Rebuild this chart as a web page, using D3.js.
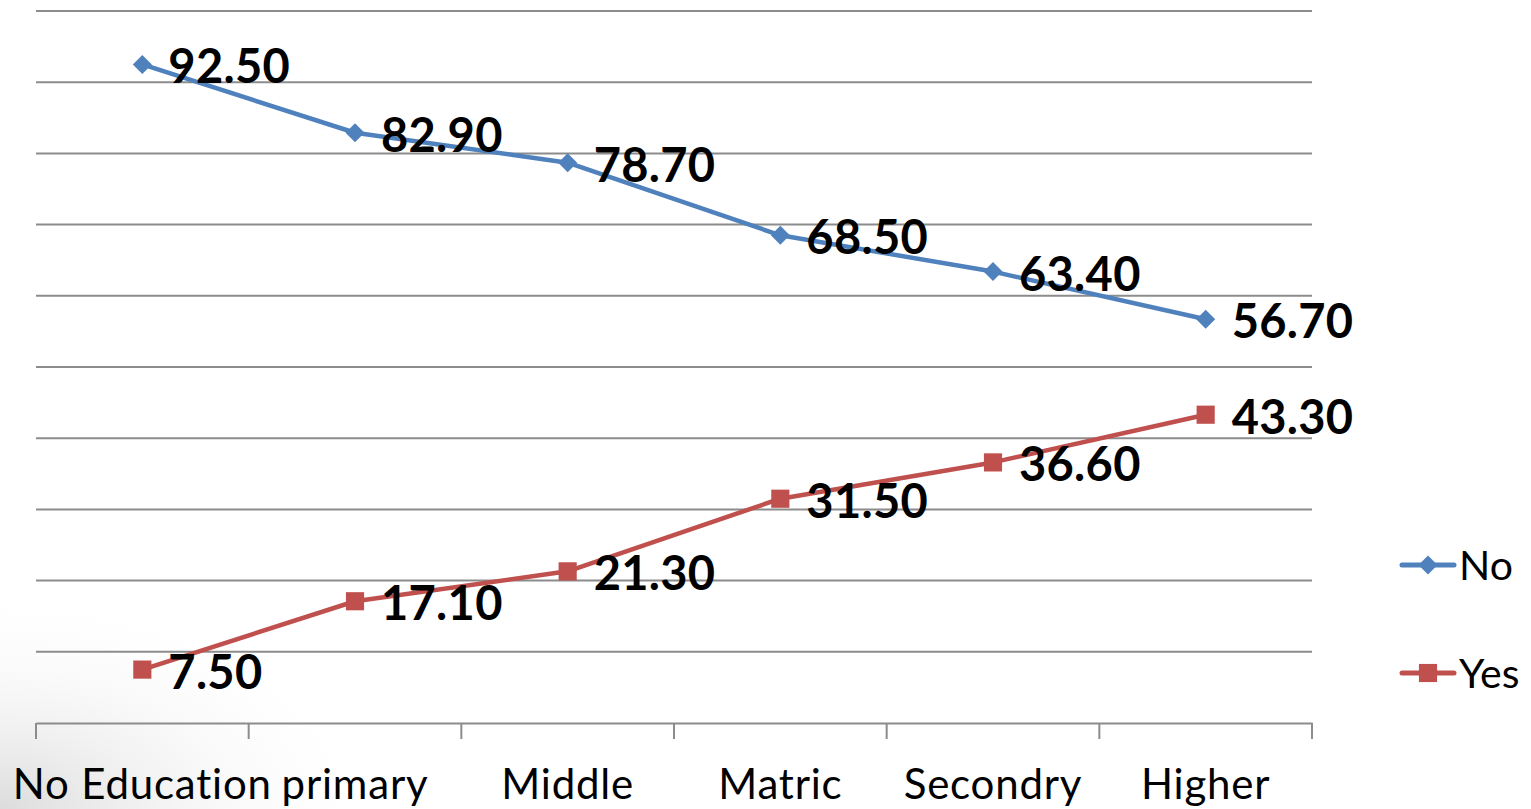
<!DOCTYPE html>
<html>
<head>
<meta charset="utf-8">
<script src="https://cdn.jsdelivr.net/npm/d3@7"></script>
<style>
  html, body { margin: 0; padding: 0; background: #fff; }
  svg { display: block; }
  text { font-variant-ligatures: none; }
</style>
</head>
<body>
<svg id="chart" width="1531" height="809"></svg>
<script>
const categories = ["No Education", "primary", "Middle", "Matric", "Secondry", "Higher"];
const noValues = [92.5, 82.9, 78.7, 68.5, 63.4, 56.7];
const yesValues = [7.5, 17.1, 21.3, 31.5, 36.6, 43.3];
const yTicks = [10, 20, 30, 40, 50, 60, 70, 80, 90, 100];
const seriesNames = ["No", "Yes"];

const svg = d3.select("#chart");
const W = 1531, H = 809;
const plotLeft = 36, plotRight = 1312, plotTop = 11, plotBottom = 723;
const blue = "#4F81BD", red = "#C0504D";
const font = "Lato, 'Open Sans', sans-serif";

// faint background shading at bottom-left
const defs = svg.append("defs");
const rg = defs.append("radialGradient").attr("id", "shade")
  .attr("cx", 0).attr("cy", 1).attr("r", 0.55);
rg.append("stop").attr("offset", "0%").attr("stop-color", "#dcdcdc");
rg.append("stop").attr("offset", "100%").attr("stop-color", "#ffffff").attr("stop-opacity", 0);
svg.append("rect").attr("width", W).attr("height", H).attr("fill", "#fff");
svg.append("rect").attr("x", 0).attr("y", 400).attr("width", 700).attr("height", 409).attr("fill", "url(#shade)");

const x = d3.scaleBand().domain(categories).range([plotLeft, plotRight]).padding(0);
const y = d3.scaleLinear().domain([0, 100]).range([plotBottom, plotTop]);

// gridlines
svg.append("g").selectAll("line").data(yTicks).join("line")
  .attr("x1", plotLeft).attr("x2", plotRight)
  .attr("y1", d => y(d)).attr("y2", d => y(d))
  .attr("stroke", "#8c8c8c").attr("stroke-width", 2);

// x axis
const xAxis = d3.axisBottom(x).tickSize(0).tickSizeOuter(0).tickFormat(d => d);
const gx = svg.append("g").attr("transform", `translate(0,${plotBottom})`).call(xAxis);
gx.select(".domain").attr("stroke", "#8c8c8c").attr("stroke-width", 2);
gx.selectAll(".tick text")
  .attr("font-family", font).attr("font-size", 42).attr("fill", "#000")
  .attr("letter-spacing", 0.8)
  .attr("dy", 0).attr("y", 76);
// boundary tick marks
const bounds = categories.map(c => x(c)).concat([x(categories[categories.length - 1]) + x.bandwidth()]);
svg.append("g").selectAll("line").data(bounds).join("line")
  .attr("x1", d => d).attr("x2", d => d)
  .attr("y1", plotBottom).attr("y2", plotBottom + 16)
  .attr("stroke", "#8c8c8c").attr("stroke-width", 2);

const cx = c => x(c) + x.bandwidth() / 2;
const line = d3.line().x((d, i) => cx(categories[i])).y(d => y(d));

function symbolFor(shape) {
  return shape === "diamond"
    ? d3.symbol().type(d3.symbolDiamond2).size(230)
    : d3.symbol().type(d3.symbolSquare2).size(420);
}

function drawSeries(vals, color, shape) {
  svg.append("path").datum(vals).attr("d", line)
    .attr("fill", "none").attr("stroke", color).attr("stroke-width", 4.5)
    .attr("stroke-linejoin", "round");
  svg.append("g").selectAll("path").data(vals).join("path")
    .attr("d", symbolFor(shape))
    .attr("transform", (d, i) => `translate(${cx(categories[i])},${y(d)})`)
    .attr("fill", color);
  svg.append("g").selectAll("text").data(vals).join("text")
    .attr("x", (d, i) => cx(categories[i]) + 26)
    .attr("y", d => y(d) + 19)
    .attr("font-family", font).attr("font-weight", "bold").attr("font-size", 47)
    .attr("letter-spacing", 0.3)
    .attr("fill", "#000")
    .text(d => d3.format(".2f")(d));
}
drawSeries(noValues, blue, "diamond");
drawSeries(yesValues, red, "square");

// legend
const legendY = [565, 673];
const colors = [blue, red];
const shapes = ["diamond", "square"];
seriesNames.forEach((name, i) => {
  const g = svg.append("g");
  g.append("line").attr("x1", 1402).attr("x2", 1454)
    .attr("y1", legendY[i]).attr("y2", legendY[i])
    .attr("stroke", colors[i]).attr("stroke-width", 5).attr("stroke-linecap", "round");
  g.append("path").attr("d", symbolFor(shapes[i]))
    .attr("transform", `translate(1428,${legendY[i]})`)
    .attr("fill", colors[i]);
  g.append("text").attr("x", 1459).attr("y", legendY[i] + 15)
    .attr("font-family", font).attr("font-size", 41).attr("fill", "#000")
    .text(name);
});
</script>
</body>
</html>
